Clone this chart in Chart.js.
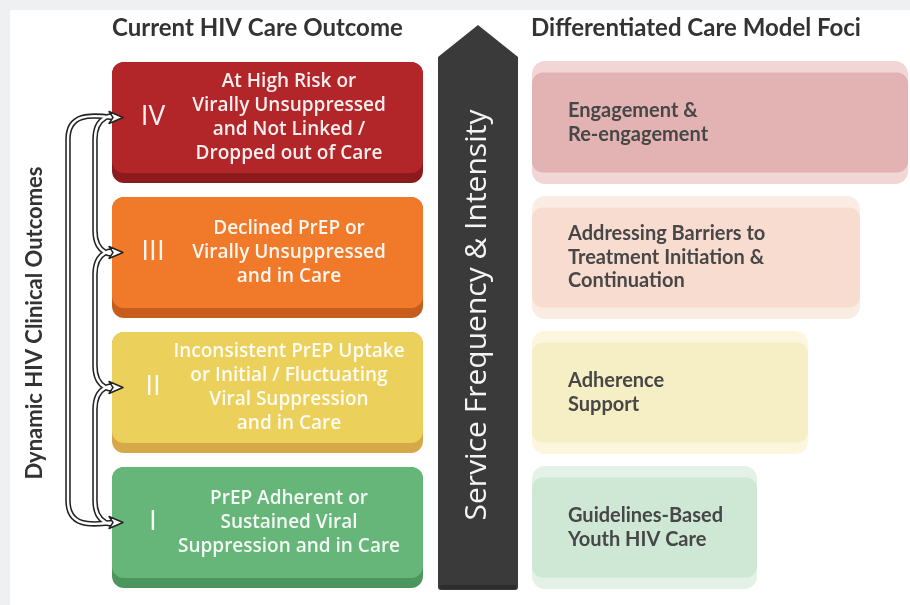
<!DOCTYPE html>
<html>
<head>
<meta charset="utf-8">
<script src="https://cdn.jsdelivr.net/npm/chart.js@4/dist/chart.umd.min.js"></script>
<style>
  html, body { margin: 0; padding: 0; background: #fff; }
</style>
</head>
<body>
<canvas id="careChart" width="910" height="605"></canvas>
<script>
// levels, top to bottom
const levels = ['IV', 'III', 'II', 'I'];
const outcomeLines = [
  ['At High Risk or', 'Virally Unsuppressed', 'and Not Linked /', 'Dropped out of Care'],
  ['Declined PrEP or', 'Virally Unsuppressed', 'and in Care'],
  ['Inconsistent PrEP Uptake', 'or Initial / Fluctuating', 'Viral Suppression', 'and in Care'],
  ['PrEP Adherent or', 'Sustained Viral', 'Suppression and in Care']
];
const fociLines = [
  ['Engagement &', 'Re-engagement'],
  ['Addressing Barriers to', 'Treatment Initiation &', 'Continuation'],
  ['Adherence', 'Support'],
  ['Guidelines-Based', 'Youth HIV Care']
];
// extents (x axis runs 0..910)
const outcomeStart = [112, 112, 112, 112];
const outcomeEnd = [423, 423, 423, 423];
const fociStart = [532, 532, 532, 532];
const fociEnd = [908, 860, 808, 757];

const leftTitle = 'Current HIV Care Outcome';
const rightTitle = 'Differentiated Care Model Foci';
const sideTitle = 'Dynamic HIV Clinical Outcomes';
const arrowTitle = 'Service Frequency & Intensity';

const faceColors = ['#b22528', '#f07a2a', '#ecd05c', '#66b679'];
const shadowColors = ['#8c1b1e', '#c65d1c', '#d6a847', '#4c965d'];
const fociInnerColors = ['#e2b3b2', '#f8dccf', '#f6efc5', '#cfe7d5'];
const fociOuterColors = ['#f2d6d6', '#fbece3', '#fbf6dd', '#e3f1e6'];

const CAT = 135; // px per level

function spans(a, b) {
  return levels.map(function(l, i){ return [a[i], b[i]]; });
}

const diagramPlugin = {
  id: 'diagram',
  beforeDraw: function(chart) {
    const ctx = chart.ctx;
    ctx.save();
    ctx.fillStyle = '#eef0f2';
    ctx.fillRect(0, 0, chart.width, chart.height);
    ctx.fillStyle = '#ffffff';
    ctx.fillRect(10, 10, chart.width - 10, chart.height - 10);
    ctx.restore();
  },
  beforeDatasetDraw: function(chart, args) {
    if (args.index === 0) { // lift the face so the darker band shows below
      chart.ctx.save();
      chart.ctx.translate(0, -5);
    }
  },
  afterDatasetDraw: function(chart, args) {
    if (args.index === 0) chart.ctx.restore();
  },
  afterDatasetsDraw: function(chart) {
    const ctx = chart.ctx;
    const x = chart.scales.x;
    const faces = chart.getDatasetMeta(0).data;
    const foci = chart.getDatasetMeta(2).data;

    ctx.save();
    // headers
    ctx.fillStyle = '#333333';
    ctx.font = 'bold 24px Lato';
    ctx.textBaseline = 'middle';
    ctx.textAlign = 'left';
    ctx.fillText(leftTitle, x.getPixelForValue(outcomeStart[0]), 28);
    ctx.fillText(rightTitle, x.getPixelForValue(fociStart[0]) - 1, 28);

    // left boxes: numeral + text
    faces.forEach(function(bar, i) {
      const cy = bar.y - 5;
      ctx.fillStyle = 'rgba(255,255,255,0.93)';
      ctx.textAlign = 'center';
      ctx.font = '28px "Open Sans"';
      ctx.fillText(levels[i], bar.base + 41, cy);
      ctx.font = '600 19px "Open Sans"';
      const lines = outcomeLines[i];
      const lh = 24;
      lines.forEach(function(t, k) {
        ctx.fillText(t, 289, cy + (k - (lines.length - 1) / 2) * lh);
      });
    });

    // right boxes text
    foci.forEach(function(bar, i) {
      ctx.fillStyle = '#474747';
      ctx.textAlign = 'left';
      ctx.font = 'bold 20px Lato';
      const lines = fociLines[i];
      const lh = 23.5;
      lines.forEach(function(t, k) {
        ctx.fillText(t, bar.base + 36, bar.y + (k - (lines.length - 1) / 2) * lh);
      });
    });

    // arrow
    const aL = 438, aR = 518, aTip = 25, aSh = 57, aBot = 590;
    const aMid = (aL + aR) / 2;
    ctx.fillStyle = '#3a3a3a';
    ctx.beginPath();
    ctx.moveTo(aMid, aTip);
    ctx.lineTo(aR, aSh);
    ctx.lineTo(aR, aBot - 3);
    ctx.quadraticCurveTo(aR, aBot, aR - 3, aBot);
    ctx.lineTo(aL + 3, aBot);
    ctx.quadraticCurveTo(aL, aBot, aL, aBot - 3);
    ctx.lineTo(aL, aSh);
    ctx.closePath();
    ctx.fill();
    ctx.fillStyle = '#2c2c2c';
    ctx.fillRect(aL + 2, aBot - 5, aR - aL - 4, 4);
    ctx.save();
    ctx.translate(aMid - 2, 315);
    ctx.rotate(-Math.PI / 2);
    ctx.fillStyle = '#f4f4f4';
    ctx.textAlign = 'center';
    ctx.font = '30px "Open Sans"';
    ctx.fillText(arrowTitle, 0, 1);
    ctx.restore();

    // side label
    ctx.save();
    ctx.translate(35, 323);
    ctx.rotate(-Math.PI / 2);
    ctx.fillStyle = '#333333';
    ctx.textAlign = 'center';
    ctx.font = 'bold 22px Lato';
    ctx.fillText(sideTitle, 0, 0);
    ctx.restore();

    // braces linking the levels
    const tips = faces.map(function(bar) { return bar.y - 5; });
    const tipX = x.getPixelForValue(outcomeStart[0]);
    function seg(y1, y2, vx) {
      ctx.moveTo(tipX, y1);
      ctx.bezierCurveTo(vx + 22, y1 - 3, vx, y1 - 4, vx, y1 + 22);
      ctx.lineTo(vx, y2 - 22);
      ctx.bezierCurveTo(vx, y2 + 4, vx + 22, y2 + 3, tipX, y2);
    }
    ctx.beginPath();
    seg(tips[0], tips[3], 68);
    for (let i = 0; i < tips.length - 1; i++) seg(tips[i], tips[i + 1], 95);
    ctx.lineCap = 'round';
    ctx.lineJoin = 'round';
    ctx.strokeStyle = '#222222';
    ctx.lineWidth = 5.5;
    ctx.stroke();
    ctx.strokeStyle = '#ffffff';
    ctx.lineWidth = 2.4;
    ctx.stroke();
    tips.forEach(function(ty) {
      ctx.beginPath();
      ctx.moveTo(tipX - 3, ty - 6);
      ctx.lineTo(tipX + 11, ty);
      ctx.lineTo(tipX - 3, ty + 6);
      ctx.lineTo(tipX + 1, ty);
      ctx.closePath();
      ctx.fillStyle = '#ffffff';
      ctx.fill();
      ctx.strokeStyle = '#222222';
      ctx.lineWidth = 1.4;
      ctx.stroke();
    });
    ctx.restore();
  }
};

// datasets listed top-most first (Chart.js paints the last one first)
const chartConfig = {
  type: 'bar',
  data: {
    labels: levels,
    datasets: [
      {
        label: 'Outcome',
        data: spans(outcomeStart, outcomeEnd),
        backgroundColor: faceColors,
        barPercentage: 111 / CAT,
        categoryPercentage: 1,
        grouped: false,
        borderRadius: 12,
        borderSkipped: false
      },
      {
        label: 'Outcome shadow',
        data: spans(outcomeStart, outcomeEnd),
        backgroundColor: shadowColors,
        barPercentage: 121 / CAT,
        categoryPercentage: 1,
        grouped: false,
        borderRadius: 12,
        borderSkipped: false
      },
      {
        label: 'Foci',
        data: spans(fociStart, fociEnd),
        backgroundColor: fociInnerColors,
        barPercentage: 100 / CAT,
        categoryPercentage: 1,
        grouped: false,
        borderRadius: 11,
        borderSkipped: false
      },
      {
        label: 'Foci frame',
        data: spans(fociStart, fociEnd),
        backgroundColor: fociOuterColors,
        barPercentage: 123 / CAT,
        categoryPercentage: 1,
        grouped: false,
        borderRadius: 13,
        borderSkipped: false
      }
    ]
  },
  options: {
    indexAxis: 'y',
    responsive: false,
    animation: false,
    devicePixelRatio: 1,
    layout: { padding: { top: 55, bottom: 10, left: 0, right: 0 } },
    scales: {
      x: { type: 'linear', min: 0, max: 910, display: false },
      y: { type: 'category', display: false, offset: true }
    },
    plugins: {
      legend: { display: false },
      tooltip: { enabled: false }
    }
  },
  plugins: [diagramPlugin]
};

window.onload = function() {
  document.fonts.load('bold 20px Lato').then(function() {
    return document.fonts.load('600 18px "Open Sans"');
  }).then(function() {
    new Chart(document.getElementById('careChart'), chartConfig);
  });
};
</script>
</body>
</html>
